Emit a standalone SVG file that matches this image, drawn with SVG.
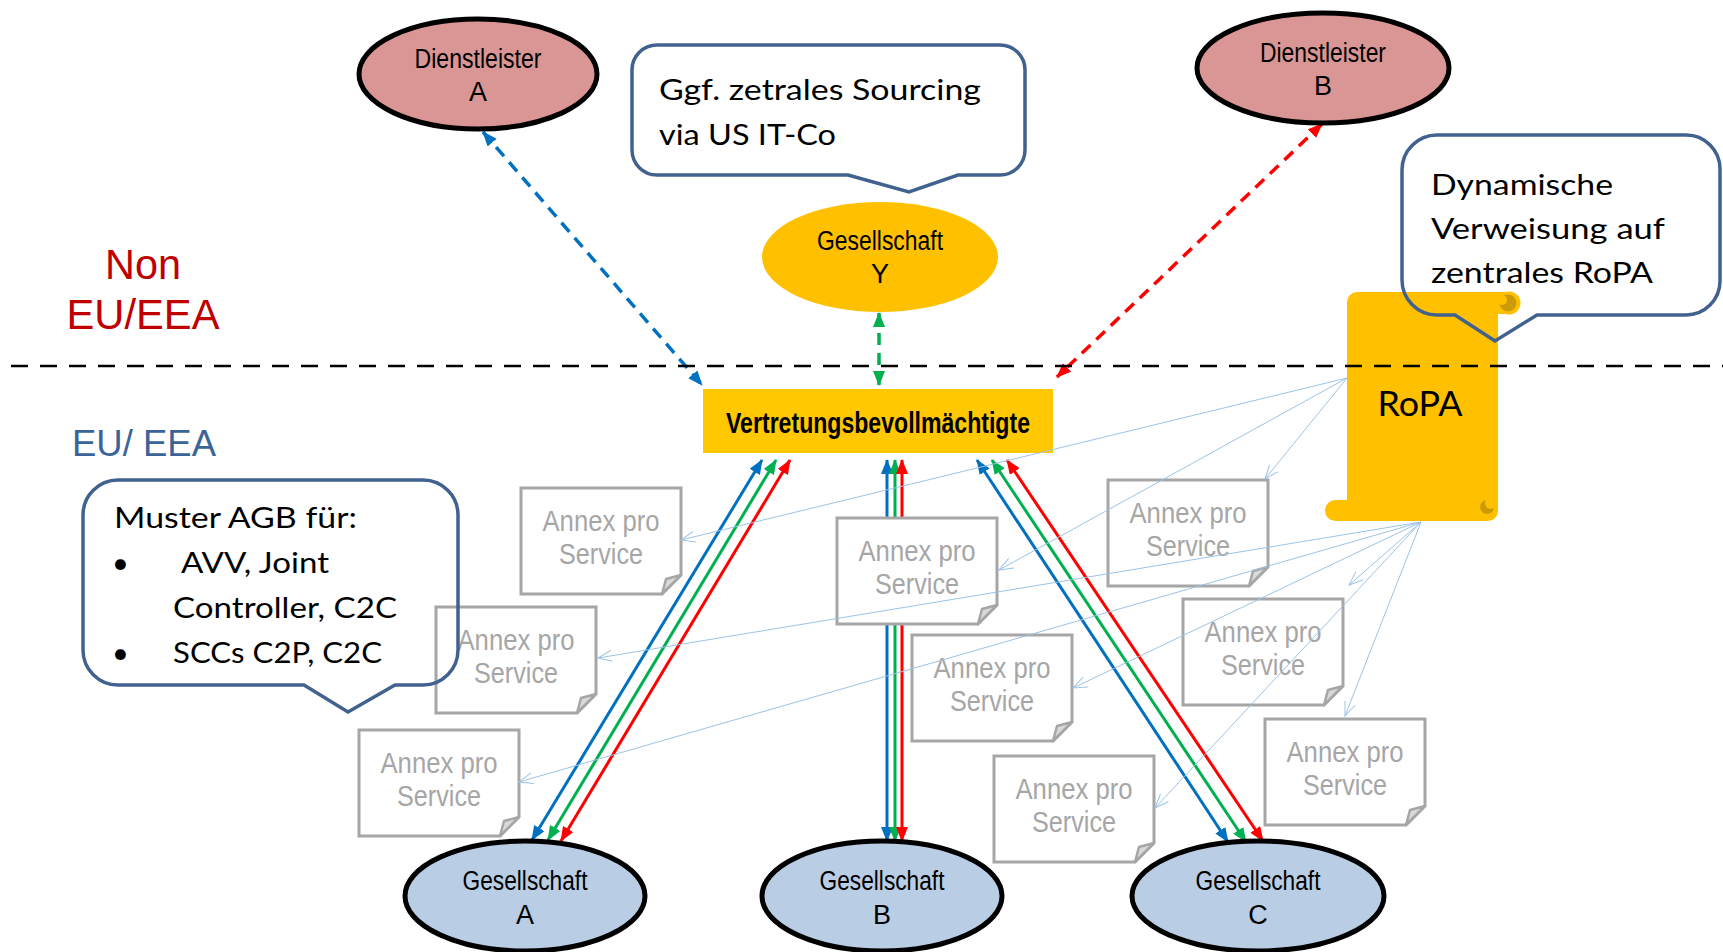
<svg xmlns="http://www.w3.org/2000/svg" width="1723" height="952" viewBox="0 0 1723 952">
<style>
.lbl{font-family:"Liberation Sans",Arial,sans-serif;font-size:27px;fill:#000;text-anchor:middle}
.ax{font-family:"Liberation Sans",Arial,sans-serif;font-size:29px;fill:#A6A6A6;text-anchor:middle}
.co{font-family:Lato,"Liberation Sans",sans-serif;font-size:29px;fill:#000}
.doc{fill:#fff;stroke:#A6A6A6;stroke-width:3}
.fold{fill:#D9D9D9;stroke:#A6A6A6;stroke-width:2.5;stroke-linejoin:round}
.dl{fill:#D99694;stroke:#000;stroke-width:5}
.ges{fill:#B9CDE5;stroke:#000;stroke-width:5}
.call{fill:none;stroke:#41628F;stroke-width:3.5;stroke-linejoin:miter}
.thin{stroke:#9DC3E6;stroke-width:1;fill:none;marker-end:url(#at)}
.sb{stroke:#0070C0;stroke-width:3;fill:none;marker-start:url(#ab);marker-end:url(#ab)}
.sg{stroke:#00B050;stroke-width:3;fill:none;marker-start:url(#ag);marker-end:url(#ag)}
.sr{stroke:#FF0000;stroke-width:3;fill:none;marker-start:url(#ar);marker-end:url(#ar)}
</style>
<defs>
<marker id="ab" viewBox="0 0 15 12" markerWidth="15" markerHeight="12" refX="14" refY="6" orient="auto-start-reverse" markerUnits="userSpaceOnUse"><path d="M0,0 L15,6 L0,12 z" fill="#0070C0"/></marker>
<marker id="ag" viewBox="0 0 15 12" markerWidth="15" markerHeight="12" refX="14" refY="6" orient="auto-start-reverse" markerUnits="userSpaceOnUse"><path d="M0,0 L15,6 L0,12 z" fill="#00B050"/></marker>
<marker id="ar" viewBox="0 0 15 12" markerWidth="15" markerHeight="12" refX="14" refY="6" orient="auto-start-reverse" markerUnits="userSpaceOnUse"><path d="M0,0 L15,6 L0,12 z" fill="#FF0000"/></marker>
<marker id="at" viewBox="0 0 15 12" markerWidth="15" markerHeight="12" refX="14" refY="6" orient="auto" markerUnits="userSpaceOnUse"><path d="M0,0.5 L14,6 L0,11.5" fill="none" stroke="#9DC3E6" stroke-width="1"/></marker>
</defs>
<rect width="1723" height="952" fill="#fff"/>

<!-- region labels -->
<g id="region-labels">
<text x="143" y="279" font-family="Liberation Sans, Arial, sans-serif" font-size="42" fill="#C00000" text-anchor="middle" textLength="76" lengthAdjust="spacingAndGlyphs">Non</text>
<text x="143" y="329" font-family="Liberation Sans, Arial, sans-serif" font-size="42" fill="#C00000" text-anchor="middle" textLength="153" lengthAdjust="spacingAndGlyphs">EU/EEA</text>
<text x="72" y="456" font-family="Liberation Sans, Arial, sans-serif" font-size="36" fill="#3B6499" textLength="144" lengthAdjust="spacingAndGlyphs">EU/ EEA</text>
</g>

<!-- connectors (colored) -->
<g id="connectors">
<line x1="483" y1="132" x2="702" y2="385" stroke="#0070C0" stroke-width="3.5" stroke-dasharray="12 8" marker-start="url(#ab)" marker-end="url(#ab)"/>
<line x1="879" y1="313" x2="879" y2="385" stroke="#00B050" stroke-width="3.5" stroke-dasharray="12 8" marker-start="url(#ag)" marker-end="url(#ag)"/>
<line x1="1322" y1="124" x2="1057" y2="377" stroke="#FF0000" stroke-width="3.5" stroke-dasharray="12 8" marker-start="url(#ar)" marker-end="url(#ar)"/>
<line class="sb" x1="762" y1="460" x2="532" y2="840"/>
<line class="sg" x1="776" y1="460" x2="548" y2="840"/>
<line class="sr" x1="790" y1="460" x2="561" y2="841"/>
<line class="sb" x1="887" y1="460" x2="887" y2="841"/>
<line class="sg" x1="895" y1="460" x2="895" y2="841"/>
<line class="sr" x1="902" y1="460" x2="902" y2="841"/>
<line class="sb" x1="977" y1="460" x2="1228" y2="842"/>
<line class="sg" x1="992" y1="460" x2="1246" y2="842"/>
<line class="sr" x1="1007" y1="460" x2="1263" y2="841"/>
</g>

<!-- nodes -->
<g id="dienstleister-a">
<ellipse class="dl" cx="478" cy="74" rx="119" ry="55"/>
<text class="lbl" x="478" y="68" textLength="127" lengthAdjust="spacingAndGlyphs">Dienstleister</text>
<text class="lbl" x="478" y="101">A</text>
</g>
<g id="dienstleister-b">
<ellipse class="dl" cx="1323" cy="68" rx="126" ry="55"/>
<text class="lbl" x="1323" y="62" textLength="126" lengthAdjust="spacingAndGlyphs">Dienstleister</text>
<text class="lbl" x="1323" y="95">B</text>
</g>
<g id="gesellschaft-y">
<ellipse cx="880" cy="257" rx="118" ry="55" fill="#FFC000"/>
<text class="lbl" x="880" y="250" textLength="126" lengthAdjust="spacingAndGlyphs">Gesellschaft</text>
<text class="lbl" x="880" y="283">Y</text>
</g>
<g id="vertretung">
<rect x="703" y="389" width="350" height="64" fill="#FFC800"/>
<text x="878" y="433" font-family="Liberation Sans, Arial, sans-serif" font-size="29" font-weight="bold" text-anchor="middle" textLength="304" lengthAdjust="spacingAndGlyphs">Vertretungsbevollmächtigte</text>
</g>
<g id="gesellschaft-a">
<ellipse class="ges" cx="525" cy="896" rx="120" ry="55"/>
<text class="lbl" x="525" y="890" textLength="125" lengthAdjust="spacingAndGlyphs">Gesellschaft</text>
<text class="lbl" x="525" y="924">A</text>
</g>
<g id="gesellschaft-b">
<ellipse class="ges" cx="882" cy="896" rx="120" ry="55"/>
<text class="lbl" x="882" y="890" textLength="125" lengthAdjust="spacingAndGlyphs">Gesellschaft</text>
<text class="lbl" x="882" y="924">B</text>
</g>
<g id="gesellschaft-c">
<ellipse class="ges" cx="1258" cy="896" rx="126" ry="55"/>
<text class="lbl" x="1258" y="890" textLength="125" lengthAdjust="spacingAndGlyphs">Gesellschaft</text>
<text class="lbl" x="1258" y="924">C</text>
</g>

<!-- annex documents -->
<g id="annex-1" transform="translate(521,488)"><path class="doc" d="M0,0 H160 V87 L141,106 H0 Z"/><path class="fold" d="M160,87 L141,106 L145,91 Z"/><text class="ax" x="80" y="43" textLength="117" lengthAdjust="spacingAndGlyphs">Annex pro</text><text class="ax" x="80" y="76" textLength="84" lengthAdjust="spacingAndGlyphs">Service</text></g>
<g id="annex-2" transform="translate(837,518)"><path class="doc" d="M0,0 H160 V87 L141,106 H0 Z"/><path class="fold" d="M160,87 L141,106 L145,91 Z"/><text class="ax" x="80" y="43" textLength="117" lengthAdjust="spacingAndGlyphs">Annex pro</text><text class="ax" x="80" y="76" textLength="84" lengthAdjust="spacingAndGlyphs">Service</text></g>
<g id="annex-3" transform="translate(1108,480)"><path class="doc" d="M0,0 H160 V87 L141,106 H0 Z"/><path class="fold" d="M160,87 L141,106 L145,91 Z"/><text class="ax" x="80" y="43" textLength="117" lengthAdjust="spacingAndGlyphs">Annex pro</text><text class="ax" x="80" y="76" textLength="84" lengthAdjust="spacingAndGlyphs">Service</text></g>
<g id="annex-4" transform="translate(436,607)"><path class="doc" d="M0,0 H160 V87 L141,106 H0 Z"/><path class="fold" d="M160,87 L141,106 L145,91 Z"/><text class="ax" x="80" y="43" textLength="117" lengthAdjust="spacingAndGlyphs">Annex pro</text><text class="ax" x="80" y="76" textLength="84" lengthAdjust="spacingAndGlyphs">Service</text></g>
<g id="annex-5" transform="translate(912,635)"><path class="doc" d="M0,0 H160 V87 L141,106 H0 Z"/><path class="fold" d="M160,87 L141,106 L145,91 Z"/><text class="ax" x="80" y="43" textLength="117" lengthAdjust="spacingAndGlyphs">Annex pro</text><text class="ax" x="80" y="76" textLength="84" lengthAdjust="spacingAndGlyphs">Service</text></g>
<g id="annex-6" transform="translate(1183,599)"><path class="doc" d="M0,0 H160 V87 L141,106 H0 Z"/><path class="fold" d="M160,87 L141,106 L145,91 Z"/><text class="ax" x="80" y="43" textLength="117" lengthAdjust="spacingAndGlyphs">Annex pro</text><text class="ax" x="80" y="76" textLength="84" lengthAdjust="spacingAndGlyphs">Service</text></g>
<g id="annex-7" transform="translate(359,730)"><path class="doc" d="M0,0 H160 V87 L141,106 H0 Z"/><path class="fold" d="M160,87 L141,106 L145,91 Z"/><text class="ax" x="80" y="43" textLength="117" lengthAdjust="spacingAndGlyphs">Annex pro</text><text class="ax" x="80" y="76" textLength="84" lengthAdjust="spacingAndGlyphs">Service</text></g>
<g id="annex-8" transform="translate(994,756)"><path class="doc" d="M0,0 H160 V87 L141,106 H0 Z"/><path class="fold" d="M160,87 L141,106 L145,91 Z"/><text class="ax" x="80" y="43" textLength="117" lengthAdjust="spacingAndGlyphs">Annex pro</text><text class="ax" x="80" y="76" textLength="84" lengthAdjust="spacingAndGlyphs">Service</text></g>
<g id="annex-9" transform="translate(1265,719)"><path class="doc" d="M0,0 H160 V87 L141,106 H0 Z"/><path class="fold" d="M160,87 L141,106 L145,91 Z"/><text class="ax" x="80" y="43" textLength="117" lengthAdjust="spacingAndGlyphs">Annex pro</text><text class="ax" x="80" y="76" textLength="84" lengthAdjust="spacingAndGlyphs">Service</text></g>

<!-- RoPA scroll -->
<g id="ropa">
<rect x="1347" y="292" width="151" height="229" rx="10" fill="#FFC000"/>
<rect x="1325" y="500" width="40" height="21" rx="10.5" fill="#FFC000"/>
<rect x="1480" y="292" width="30" height="22" fill="#FFC000"/>
<circle cx="1509" cy="303" r="11.5" fill="#FFC000"/>
<circle cx="1508" cy="303" r="8.5" fill="#CC9A06"/>
<circle cx="1502" cy="300" r="5" fill="#FFC000"/>
<circle cx="1487" cy="507" r="7" fill="#CC9A06"/>
<circle cx="1491" cy="503" r="6" fill="#FFC000"/>
<text x="1420" y="416" font-family="Lato, Liberation Sans, sans-serif" font-size="35" text-anchor="middle" textLength="85" lengthAdjust="spacingAndGlyphs">RoPA</text>
</g>

<!-- separator -->
<line x1="11" y1="366" x2="1723" y2="366" stroke="#000" stroke-width="2.5" stroke-dasharray="17 12"/>

<!-- thin reference arrows from RoPA -->
<g id="ropa-links">
<line class="thin" x1="1347" y1="378" x2="681" y2="540"/>
<line class="thin" x1="1347" y1="378" x2="999" y2="570"/>
<line class="thin" x1="1347" y1="378" x2="1265" y2="479"/>
<line class="thin" x1="1421" y1="522" x2="598" y2="658"/>
<line class="thin" x1="1421" y1="522" x2="1073" y2="688"/>
<line class="thin" x1="1421" y1="522" x2="1349" y2="585"/>
<line class="thin" x1="1421" y1="522" x2="519" y2="782"/>
<line class="thin" x1="1421" y1="522" x2="1155" y2="808"/>
<line class="thin" x1="1421" y1="522" x2="1345" y2="716"/>
</g>

<!-- callouts -->
<g id="callout-sourcing">
<path class="call" d="M657,45 H1000 A25,25 0 0 1 1025,70 V150 A25,25 0 0 1 1000,175 H958 L909,192 L848,175 H657 A25,25 0 0 1 632,150 V70 A25,25 0 0 1 657,45 Z"/>
<text class="co" x="659" y="100" textLength="322" lengthAdjust="spacingAndGlyphs">Ggf. zetrales Sourcing</text>
<text class="co" x="659" y="145" textLength="177" lengthAdjust="spacingAndGlyphs">via US IT-Co</text>
</g>
<g id="callout-ropa">
<path class="call" d="M1437,135 H1686 A34,34 0 0 1 1720,169 V281 A34,34 0 0 1 1686,315 H1537 L1495,341 L1455,315 H1437 A35,35 0 0 1 1402,280 V170 A35,35 0 0 1 1437,135 Z"/>
<text class="co" x="1431" y="195" textLength="182" lengthAdjust="spacingAndGlyphs">Dynamische</text>
<text class="co" x="1431" y="239" textLength="234" lengthAdjust="spacingAndGlyphs">Verweisung auf</text>
<text class="co" x="1431" y="283" textLength="222" lengthAdjust="spacingAndGlyphs">zentrales RoPA</text>
</g>
<g id="callout-agb">
<path class="call" d="M118,480 H423 A35,35 0 0 1 458,515 V650 A35,35 0 0 1 423,685 H395 L348,712 L304,685 H118 A35,35 0 0 1 83,650 V515 A35,35 0 0 1 118,480 Z"/>
<text class="co" x="114" y="528" textLength="243" lengthAdjust="spacingAndGlyphs">Muster AGB für:</text>
<text class="co" x="112" y="573">•</text>
<text class="co" x="181" y="573" textLength="148" lengthAdjust="spacingAndGlyphs">AVV, Joint</text>
<text class="co" x="173" y="618" textLength="224" lengthAdjust="spacingAndGlyphs">Controller, C2C</text>
<text class="co" x="112" y="663">•</text>
<text class="co" x="173" y="663" textLength="209" lengthAdjust="spacingAndGlyphs">SCCs C2P, C2C</text>
</g>
</svg>
